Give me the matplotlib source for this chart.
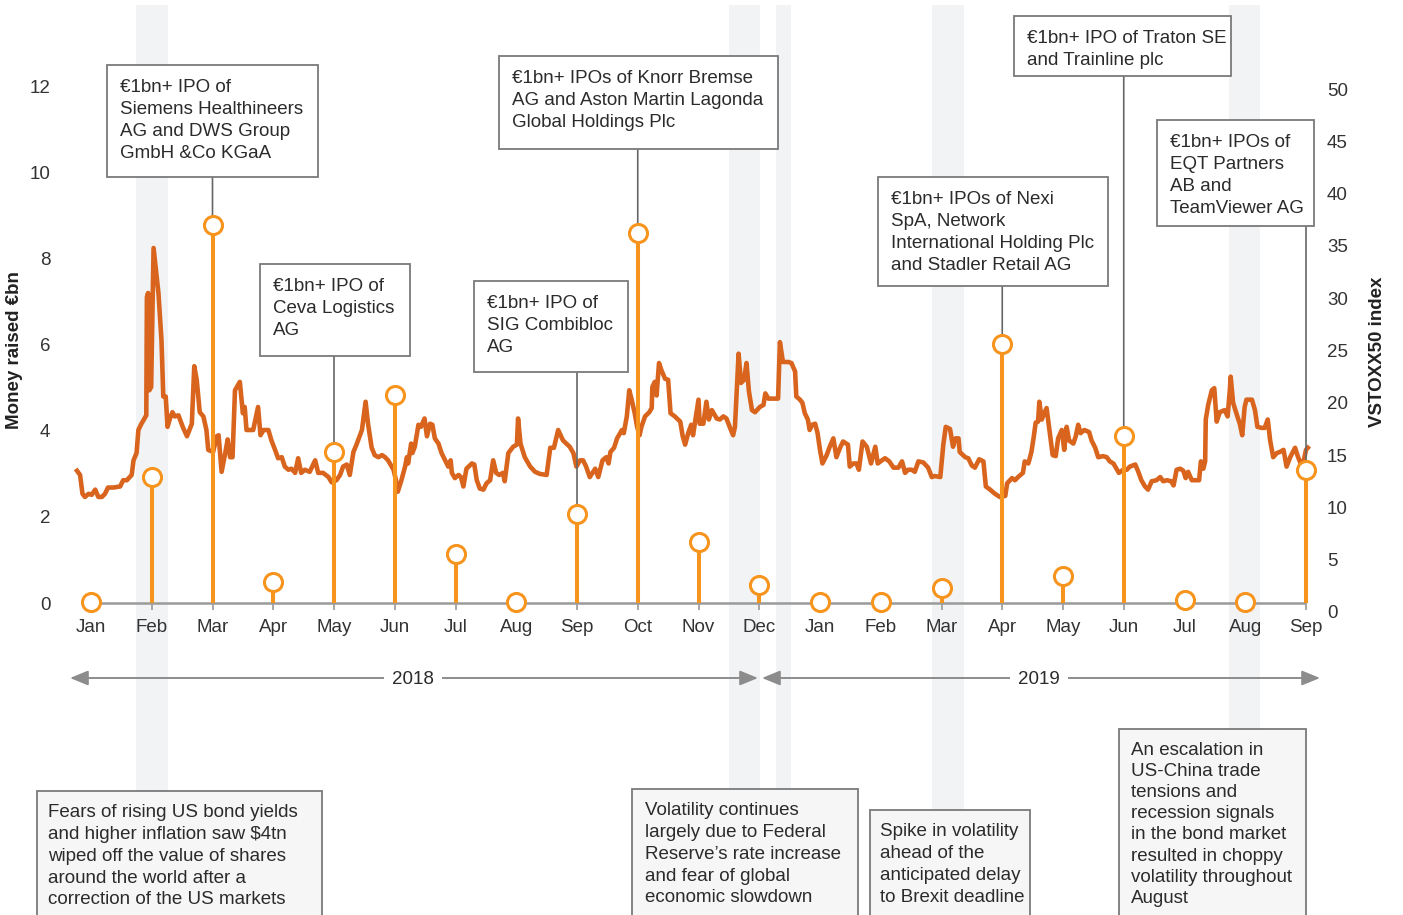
import matplotlib
matplotlib.use('Agg')
import matplotlib.pyplot as plt
from matplotlib import font_manager
from matplotlib.patches import Rectangle
from matplotlib.transforms import blended_transform_factory

# month axis, Jan 2018 .. Sep 2019 (index 0 .. 20)
months = ['Jan', 'Feb', 'Mar', 'Apr', 'May', 'Jun', 'Jul', 'Aug', 'Sep', 'Oct', 'Nov', 'Dec',
          'Jan', 'Feb', 'Mar', 'Apr', 'May', 'Jun', 'Jul', 'Aug', 'Sep']

# money raised per month, EUR bn
ipo_bn = [0.02, 2.92, 8.77, 0.49, 3.50, 4.83, 1.14, 0.03, 2.07, 8.59, 1.42, 0.42,
          0.02, 0.02, 0.35, 6.01, 0.63, 3.88, 0.07, 0.02, 3.09]

# VSTOXX50 daily-ish trace: position in months from 1 Jan 2018, index level
vstoxx_pos = [-0.23, -0.18, -0.14, -0.10, -0.04, 0.01, 0.07, 0.12, 0.18, 0.23, 0.28, 0.37, 0.48, 0.53, 0.59,
              0.67, 0.70, 0.75, 0.78, 0.83, 0.91, 0.92, 0.94, 0.96, 0.99, 1.03, 1.11, 1.16, 1.19, 1.23,
              1.26, 1.30, 1.34, 1.38, 1.44, 1.51, 1.58, 1.66, 1.70, 1.74, 1.79, 1.85, 1.90, 1.93, 2.01,
              2.07, 2.10, 2.15, 2.21, 2.25, 2.29, 2.33, 2.37, 2.45, 2.50, 2.53, 2.56, 2.67, 2.75, 2.79,
              2.84, 2.92, 2.97, 3.03, 3.08, 3.14, 3.19, 3.25, 3.30, 3.36, 3.41, 3.46, 3.52, 3.60, 3.69,
              3.74, 3.82, 3.91, 3.96, 4.04, 4.10, 4.15, 4.21, 4.26, 4.32, 4.37, 4.46, 4.52, 4.56, 4.62,
              4.67, 4.73, 4.79, 4.84, 4.89, 4.98, 5.02, 5.05, 5.11, 5.17, 5.20, 5.22, 5.27, 5.29, 5.33,
              5.39, 5.43, 5.49, 5.53, 5.58, 5.62, 5.66, 5.72, 5.77, 5.83, 5.88, 5.92, 5.94, 5.99, 6.05,
              6.09, 6.13, 6.18, 6.27, 6.31, 6.35, 6.40, 6.46, 6.51, 6.57, 6.62, 6.67, 6.72, 6.78, 6.81,
              6.87, 6.95, 7.01, 7.03, 7.07, 7.14, 7.23, 7.31, 7.39, 7.50, 7.56, 7.62, 7.69, 7.77, 7.88,
              7.94, 7.99, 8.05, 8.10, 8.15, 8.21, 8.30, 8.35, 8.42, 8.48, 8.52, 8.55, 8.61, 8.66, 8.74,
              8.77, 8.82, 8.86, 8.90, 8.95, 8.99, 9.03, 9.06, 9.12, 9.19, 9.23, 9.24, 9.28, 9.31, 9.35,
              9.39, 9.45, 9.50, 9.54, 9.61, 9.70, 9.74, 9.78, 9.83, 9.88, 9.91, 9.95, 10.00, 10.02, 10.08,
              10.13, 10.17, 10.22, 10.30, 10.35, 10.41, 10.46, 10.52, 10.57, 10.60, 10.66, 10.70, 10.75, 10.79, 10.83,
              10.88, 10.93, 11.01, 11.07, 11.10, 11.15, 11.31, 11.34, 11.39, 11.48, 11.53, 11.59, 11.61, 11.67, 11.71,
              11.75, 11.80, 11.83, 11.87, 11.92, 11.96, 12.00, 12.04, 12.11, 12.16, 12.22, 12.27, 12.33, 12.38, 12.46,
              12.49, 12.55, 12.60, 12.64, 12.70, 12.77, 12.84, 12.91, 12.95, 13.02, 13.07, 13.14, 13.21, 13.29, 13.35,
              13.40, 13.45, 13.51, 13.56, 13.62, 13.70, 13.78, 13.84, 13.89, 13.98, 14.03, 14.07, 14.14, 14.19, 14.23,
              14.28, 14.30, 14.39, 14.44, 14.50, 14.55, 14.62, 14.69, 14.73, 14.80, 14.88, 14.96, 15.05, 15.08, 15.16,
              15.21, 15.26, 15.34, 15.37, 15.43, 15.48, 15.52, 15.55, 15.59, 15.61, 15.65, 15.69, 15.73, 15.77, 15.83,
              15.88, 15.92, 15.98, 16.02, 16.06, 16.10, 16.17, 16.21, 16.25, 16.29, 16.35, 16.43, 16.47, 16.53, 16.58,
              16.66, 16.72, 16.77, 16.83, 16.88, 16.92, 16.99, 17.05, 17.10, 17.19, 17.24, 17.29, 17.35, 17.40, 17.46,
              17.54, 17.60, 17.65, 17.71, 17.78, 17.82, 17.87, 17.93, 17.98, 18.02, 18.06, 18.12, 18.24, 18.27, 18.31,
              18.34, 18.35, 18.39, 18.45, 18.49, 18.53, 18.58, 18.66, 18.71, 18.75, 18.76, 18.80, 18.87, 18.91, 18.95,
              18.99, 19.02, 19.11, 19.16, 19.20, 19.27, 19.32, 19.37, 19.41, 19.46, 19.52, 19.57, 19.63, 19.68, 19.74,
              19.82, 19.87, 19.92, 19.96, 20.00, 20.03]
vstoxx_val = [13.5, 13.1, 11.3, 11.0, 11.3, 11.2, 11.7, 11.0, 11.0, 11.3, 11.9, 11.9, 12.0, 12.6, 12.6,
              13.1, 14.5, 15.2, 17.4, 18.0, 18.8, 30.1, 30.5, 21.2, 21.5, 34.8, 30.5, 26.0, 20.6, 20.6,
              17.7, 18.5, 19.1, 18.7, 18.8, 17.7, 16.8, 18.0, 23.5, 22.2, 19.1, 18.7, 17.4, 15.5, 15.3,
              16.8, 16.9, 13.4, 15.2, 16.5, 14.8, 14.8, 21.2, 22.0, 19.0, 19.6, 17.4, 17.4, 19.6, 16.9,
              17.4, 17.4, 16.4, 15.5, 14.7, 14.8, 13.9, 13.6, 13.7, 13.3, 14.7, 13.3, 13.6, 13.4, 14.5,
              13.3, 13.3, 12.9, 12.4, 12.6, 13.1, 13.9, 14.1, 13.1, 15.3, 16.0, 17.4, 20.1, 18.0, 15.7,
              15.0, 14.8, 15.0, 14.8, 14.5, 13.6, 12.6, 11.5, 12.6, 13.9, 14.8, 14.2, 16.1, 15.2, 15.8,
              17.9, 17.7, 18.5, 16.8, 18.0, 17.9, 16.6, 16.1, 15.2, 14.5, 13.9, 14.5, 13.3, 12.8, 13.1,
              12.9, 12.0, 13.7, 14.2, 14.1, 12.6, 11.8, 11.7, 12.3, 12.6, 14.5, 13.3, 13.1, 13.3, 12.5,
              15.2, 15.8, 16.0, 18.5, 16.1, 14.8, 13.9, 13.4, 13.2, 13.1, 15.7, 15.7, 17.4, 16.4, 15.8,
              15.2, 13.9, 14.5, 14.5, 13.9, 12.9, 13.7, 12.9, 14.5, 14.8, 14.2, 15.3, 15.7, 16.6, 17.4,
              17.1, 18.7, 21.2, 20.3, 19.0, 17.7, 16.9, 17.7, 18.7, 19.1, 19.5, 21.5, 22.0, 20.7, 23.8,
              23.1, 22.3, 22.2, 19.0, 18.7, 18.2, 16.8, 16.0, 17.1, 17.9, 16.9, 18.4, 20.3, 18.0, 18.0,
              20.1, 18.4, 19.3, 18.5, 18.4, 18.7, 18.5, 17.6, 16.9, 17.7, 24.7, 21.9, 22.2, 23.8, 21.1,
              19.3, 19.1, 19.6, 19.8, 20.9, 20.4, 20.4, 25.8, 23.9, 23.9, 23.8, 23.0, 20.6, 20.3, 20.0,
              19.0, 18.4, 17.4, 17.9, 18.0, 17.1, 15.5, 14.2, 15.0, 15.8, 16.6, 14.8, 15.7, 16.3, 16.0,
              13.9, 14.2, 14.2, 13.6, 16.3, 15.8, 14.2, 15.8, 14.2, 14.5, 14.7, 14.4, 13.8, 13.8, 14.4,
              13.3, 13.6, 13.6, 13.4, 14.4, 14.3, 13.8, 12.9, 13.0, 12.9, 16.0, 17.7, 17.5, 15.8, 16.6,
              16.6, 15.3, 14.8, 14.7, 14.0, 13.8, 14.6, 14.4, 12.0, 11.7, 11.3, 11.0, 11.1, 12.3, 12.8,
              12.6, 12.9, 13.3, 14.4, 14.2, 15.3, 16.8, 18.1, 18.2, 20.1, 18.4, 19.0, 19.5, 17.7, 15.0,
              14.9, 16.6, 17.4, 15.5, 17.7, 16.4, 16.1, 16.8, 17.9, 17.1, 17.4, 17.2, 16.4, 15.7, 14.8,
              14.9, 14.8, 14.4, 14.2, 13.7, 13.3, 13.6, 13.6, 13.9, 14.1, 13.4, 12.6, 12.0, 11.7, 12.5,
              12.6, 12.9, 12.5, 12.6, 12.5, 12.1, 13.6, 13.7, 13.5, 12.8, 13.4, 12.6, 12.6, 14.4, 13.7,
              14.4, 18.4, 19.8, 21.2, 21.4, 18.2, 19.1, 19.3, 18.7, 21.5, 22.5, 20.0, 18.7, 18.0, 16.9,
              19.6, 20.3, 20.3, 19.3, 17.7, 17.6, 17.6, 18.4, 16.4, 14.8, 15.2, 15.3, 15.5, 13.9, 14.8,
              15.7, 14.8, 14.1, 14.4, 15.5, 15.7]

# shaded periods of high volatility (month positions)
shade_spans = [(0.74, 1.27), (10.51, 11.01), (11.28, 11.53), (13.84, 14.37), (18.73, 19.25)]

# IPO callouts: month index they point at, text
ipo_notes = [
    (2, '€1bn+ IPO of\nSiemens Healthineers\nAG and DWS Group\nGmbH &Co KGaA'),
    (4, '€1bn+ IPO of\nCeva Logistics\nAG'),
    (8, '€1bn+ IPO of\nSIG Combibloc\nAG'),
    (9, '€1bn+ IPOs of Knorr Bremse\nAG and Aston Martin Lagonda\nGlobal Holdings Plc'),
    (15, '€1bn+ IPOs of Nexi\nSpA, Network\nInternational Holding Plc\nand Stadler Retail AG'),
    (17, '€1bn+ IPO of Traton SE\nand Trainline plc'),
    (20, '€1bn+ IPOs of\nEQT Partners\nAB and\nTeamViewer AG'),
]
# box layout in pixels: left, top, right, bottom
ipo_boxes = [(107, 65, 318, 177), (260, 264, 410, 356), (474, 281, 628, 372), (499, 56, 778, 149),
             (878, 177, 1108, 286), (1014, 16, 1231, 76), (1157, 120, 1314, 226)]

event_notes = [
    'Fears of rising US bond yields\nand higher inflation saw $4tn\nwiped off the value of shares\naround the world after a\ncorrection of the US markets',
    'Volatility continues\nlargely due to Federal\nReserve\u2019s rate increase\nand fear of global\neconomic slowdown',
    'Spike in volatility\nahead of the\nanticipated delay\nto Brexit deadline',
    'An escalation in\nUS-China trade\ntensions and\nrecession signals\nin the bond market\nresulted in choppy\nvolatility throughout\nAugust',
]
event_boxes = [(37, 791, 322, 930), (632, 789, 858, 930), (870, 810, 1030, 930), (1119, 729, 1306, 930)]

W, H = 1403, 915
LINE_C = '#D8641E'
STEM_C = '#F7941D'
TXT_C = '#2b2b2b'
BOX_EDGE = '#7a7a7a'
BAND_C = '#F2F3F5'

plt.rcParams['font.family'] = ['Liberation Sans', 'DejaVu Sans']
names = set(f.name for f in font_manager.fontManager.ttflist)
narrow = 'Liberation Sans Narrow' if 'Liberation Sans Narrow' in names else 'Liberation Sans'


def fx(px):
    return px / W


def fy(py):
    return 1 - py / H


fig = plt.figure(figsize=(W / 100, H / 100), dpi=100)

# main axes = VSTOXX (right scale), twin = money raised (left scale) drawn on top
ax_left, ax_right, ax_top, ax_bot = 60, 1320, 80, 612
ax = fig.add_axes([fx(ax_left), fy(ax_bot), fx(ax_right) - fx(ax_left), fy(ax_top) - fy(ax_bot)])
ax2 = ax.twinx()
ax.patch.set_visible(False)

xlim = ((ax_left - 91) / 60.75, (ax_right - 91) / 60.75)
ax.set_xlim(xlim)
ax.set_ylim(0, (ax_bot - ax_top) / 10.46)
ax2.set_ylim((603 - ax_bot) / 43.08, (603 - ax_top) / 43.08)

for a in (ax, ax2):
    for s in a.spines.values():
        s.set_visible(False)

# shaded bands spanning whole figure height
band_tr = blended_transform_factory(ax.transData, fig.transFigure)
for x0, x1 in shade_spans:
    fig.add_artist(Rectangle((x0, 0), x1 - x0, fy(5), transform=band_tr,
                             facecolor=BAND_C, edgecolor='none', zorder=-1))

# VSTOXX line
ax.plot(vstoxx_pos, vstoxx_val, color=LINE_C, lw=3.3, solid_joinstyle='round', zorder=2)

# baseline and month ticks
ax2.hlines(0, 0, len(months) - 1, color='#9a9a9a', lw=1.8, zorder=1)
ax2.vlines(range(len(months)), -0.16, 0, color='#9a9a9a', lw=1.2, zorder=1)

# connectors from callout boxes down to lollipops
for (m, _), (l, t, r, b) in zip(ipo_notes, ipo_boxes):
    ax2.annotate('', xy=(m, ipo_bn[m]), xycoords='data',
                 xytext=(m, fy(b)), textcoords=('data', 'figure fraction'),
                 arrowprops=dict(arrowstyle='-', color='#666666', lw=1.2, shrinkA=0, shrinkB=0),
                 zorder=2)

# lollipops
xs = list(range(len(months)))
ax2.vlines(xs, 0, ipo_bn, color=STEM_C, lw=2.9, zorder=3)
ax2.plot(xs, ipo_bn, 'o', ms=13, mfc='white', mec=STEM_C, mew=2.2, clip_on=False, zorder=4)

# ticks
ax.set_xticks(xs)
ax.set_xticklabels(months)
ax.tick_params(axis='x', length=0, pad=5, labelsize=13.5, labelcolor='#333333')
ax.yaxis.tick_right()
ax.set_yticks(range(0, 51, 5))
ax.tick_params(axis='y', length=0, pad=5, labelsize=13.5, labelcolor='#333333')
ax2.yaxis.tick_left()
ax2.set_yticks(range(0, 13, 2))
ax2.tick_params(axis='y', length=0, pad=7, labelsize=13.5, labelcolor='#333333')

fig.text(fx(15), fy(350), 'Money raised €bn', rotation=90, ha='center', va='center',
         fontsize=13.5, fontweight='bold', color='#222222')
fig.text(fx(1378), fy(352), 'VSTOXX50 index', rotation=90, ha='center', va='center',
         fontsize=13.5, fontweight='bold', color='#222222')

# year arrows
for x0, x1, xc, label in [(70, 758, 413, '2018'), (762, 1320, 1039, '2019')]:
    ax.annotate('', xy=(fx(x0), fy(678)), xytext=(fx(x1), fy(678)), xycoords='figure fraction',
                arrowprops=dict(arrowstyle='<|-|>,head_length=1.1,head_width=0.45',
                                color='#8c8c8c', lw=1.4, shrinkA=0, shrinkB=0))
    fig.text(fx(xc), fy(679), label, ha='center', va='center', fontsize=13.5, color=TXT_C,
             bbox=dict(facecolor='white', edgecolor='none', pad=6), zorder=6)


def note(box, text, fill, family, spacing, dx, dy):
    l, t, r, b = box
    fig.add_artist(Rectangle((fx(l), fy(b)), fx(r) - fx(l), fy(t) - fy(b), transform=fig.transFigure,
                             facecolor=fill, edgecolor=BOX_EDGE, lw=1.3, zorder=5))
    fig.text(fx(l + dx), fy(t + dy), text, ha='left', va='top', fontsize=13.5, color=TXT_C,
             family=family, linespacing=spacing, zorder=6)


for (m, text), box in zip(ipo_notes, ipo_boxes):
    note(box, text, 'white', 'Liberation Sans', 1.385, 13, 14)

for text, box, dx in zip(event_notes, event_boxes, (11, 13, 10, 12)):
    sp = 1.317 if text.count('\n') > 5 else 1.372
    note(box, text, '#F6F6F6', narrow, sp, dx, 13)

fig.savefig('out.png', dpi=100)
